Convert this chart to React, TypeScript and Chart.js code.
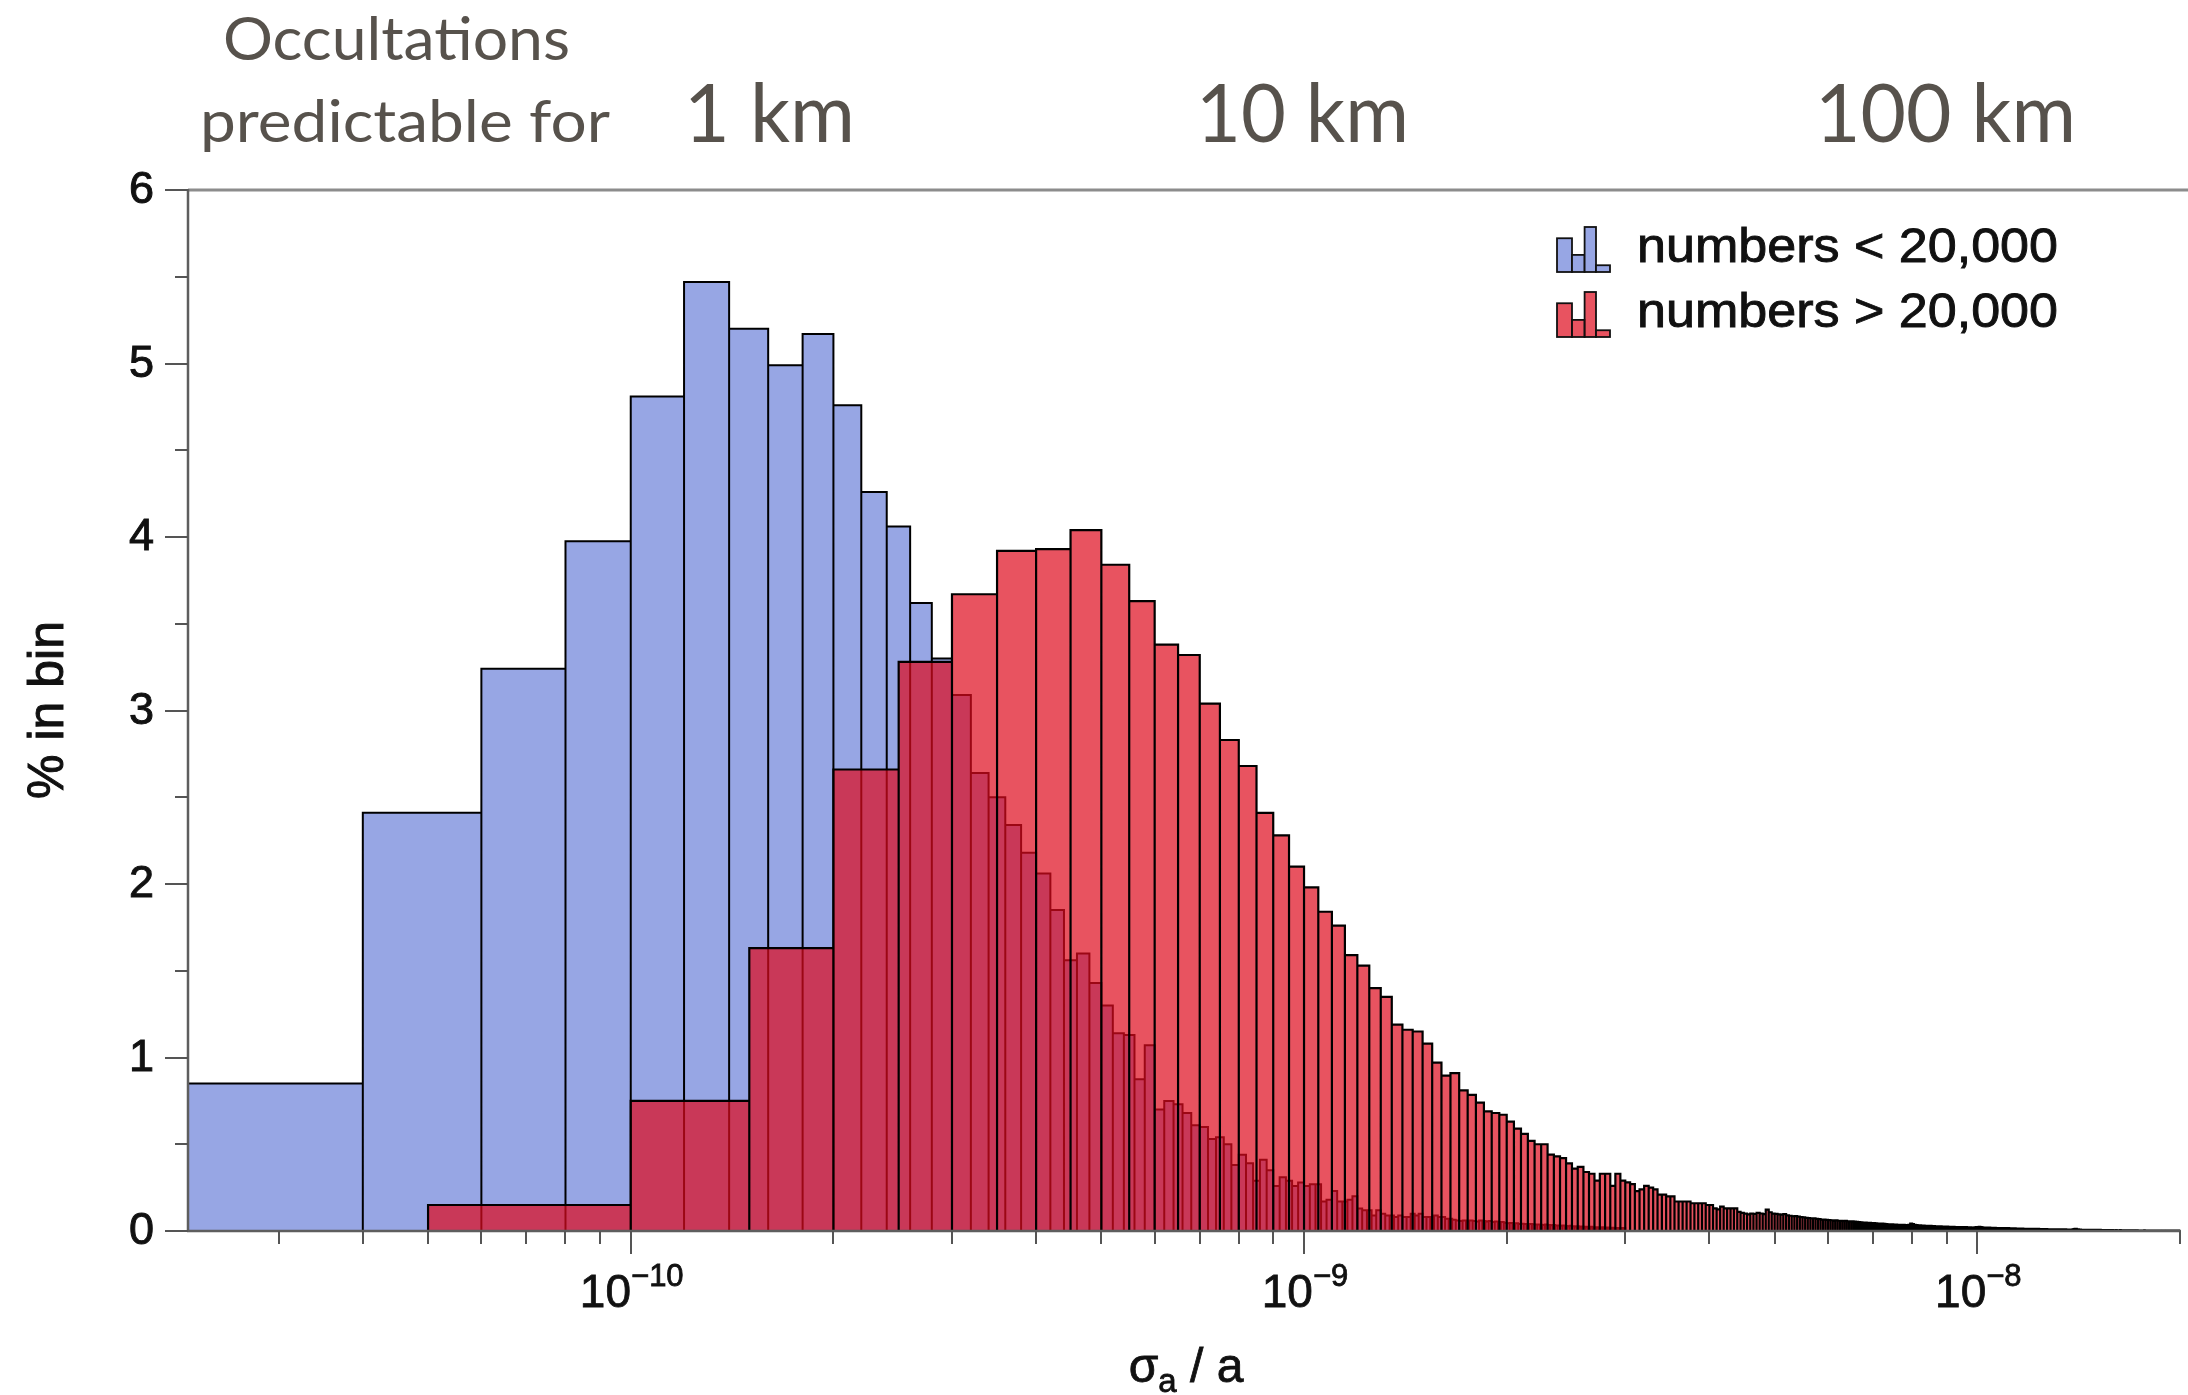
import React, { useEffect, useRef } from 'react';
import { Chart, registerables } from 'chart.js';

Chart.register(...registerables);

const W = 2188;
const H = 1395;

// ---------- Data (histogram bins, % in bin) ----------
// Blue: numbers < 20,000 ; bins of width 2e-11 starting at 2e-11
const BLUE_BIN_START = 2e-11;
const BLUE_BIN_WIDTH = 2e-11;
const blueValues = [
  0.85, 2.41, 3.24, 3.975, 4.81, 5.47, 5.2, 4.99, 5.17, 4.76,
  4.26, 4.06, 3.62, 3.3, 3.09, 2.64, 2.5, 2.34, 2.18, 2.06,
  1.85, 1.56, 1.6, 1.43, 1.3, 1.14, 1.13, 0.874, 1.07, 0.7,
  0.75, 0.73, 0.68, 0.61, 0.6, 0.53, 0.54, 0.5, 0.38, 0.44,
  0.39, 0.29, 0.41, 0.35, 0.26, 0.31, 0.29, 0.26, 0.28,
  0.26, 0.27, 0.27, 0.17, 0.18, 0.23, 0.17, 0.17, 0.18, 0.2,
  0.13, 0.12, 0.12, 0.09, 0.12, 0.1, 0.09, 0.09, 0.08, 0.09,
  0.08, 0.08, 0.1, 0.09, 0.1, 0.08, 0.08, 0.08, 0.09, 0.08,
  0.08, 0.07, 0.07, 0.065, 0.06,
  0.058, 0.06, 0.055, 0.06, 0.058, 0.055, 0.06, 0.057, 0.055, 0.058, 0.052, 0.055, 0.05, 0.052, 0.048,
  0.045, 0.046, 0.042, 0.044, 0.04, 0.042, 0.04, 0.038, 0.041, 0.039,
  0.037, 0.038, 0.036, 0.035, 0.037, 0.034, 0.033, 0.035, 0.032, 0.031,
  0.03, 0.031, 0.029, 0.028, 0.03, 0.027, 0.026, 0.028, 0.025, 0.026,
  0.024, 0.025, 0.023, 0.024, 0.022, 0.022, 0.021, 0.022, 0.02, 0.021,
  0.019, 0.02, 0.018, 0.019, 0.018, 0.017, 0.018, 0.016, 0.017, 0.016,
];

// Red: numbers > 20,000 ; bins of width 5e-11 starting at 5e-11
const RED_BIN_START = 5e-11;
const RED_BIN_WIDTH = 5e-11;
const redValues = [
  0.15, 0.75, 1.63, 2.66, 3.28, 3.67, 3.92, 3.93, 4.04, 3.84,
  3.63, 3.38, 3.32, 3.04, 2.83, 2.68, 2.41, 2.28, 2.1, 1.98,
  1.84, 1.76, 1.59, 1.53, 1.4, 1.35, 1.19, 1.16, 1.15, 1.08,
  0.97, 0.895, 0.91, 0.81, 0.785, 0.74, 0.69, 0.68, 0.67, 0.63,
  0.59, 0.56, 0.52, 0.5, 0.5, 0.44, 0.43, 0.42, 0.39, 0.36,
  0.37, 0.34, 0.33, 0.29, 0.33, 0.33, 0.26, 0.33, 0.29,
  0.28, 0.27, 0.23, 0.24, 0.26, 0.25, 0.24, 0.21, 0.21, 0.2,
  0.2, 0.17, 0.17, 0.17, 0.17, 0.16, 0.16, 0.16, 0.16, 0.15,
  0.15, 0.13, 0.125, 0.14, 0.13, 0.13, 0.13, 0.13, 0.11, 0.105,
  0.1, 0.096,
  0.1, 0.098, 0.104, 0.101, 0.097, 0.123, 0.108, 0.1,
  0.099, 0.096, 0.094, 0.097, 0.09, 0.088, 0.085, 0.086, 0.083, 0.08,
  0.078, 0.076, 0.074, 0.072, 0.073, 0.07, 0.068, 0.066, 0.065, 0.064,
  0.063, 0.062, 0.06, 0.061, 0.059, 0.058, 0.057, 0.058, 0.056, 0.055,
  0.055, 0.054, 0.053, 0.052, 0.05, 0.049, 0.048, 0.047, 0.047, 0.046,
  0.045, 0.044, 0.043, 0.042, 0.042, 0.041, 0.04, 0.039, 0.039, 0.038,
  0.037, 0.037, 0.036, 0.035, 0.036, 0.035, 0.034, 0.033, 0.036, 0.042,
  0.04, 0.036, 0.034, 0.033, 0.032, 0.031, 0.031, 0.03, 0.03, 0.029,
  0.029, 0.028, 0.028, 0.027, 0.027, 0.026, 0.027, 0.026, 0.025, 0.025,
  0.025, 0.024, 0.024, 0.023, 0.024, 0.023, 0.023, 0.022, 0.022, 0.023,
  0.022, 0.021, 0.022, 0.021, 0.02, 0.021, 0.02, 0.02, 0.021, 0.022,
  0.023, 0.024, 0.022, 0.021, 0.02, 0.019, 0.019, 0.018, 0.019, 0.018,
  0.018, 0.017, 0.018, 0.017, 0.017, 0.016, 0.017, 0.016, 0.016, 0.016,
  0.016, 0.015, 0.016, 0.015, 0.015, 0.015, 0.014, 0.015, 0.014, 0.014,
  0.014, 0.014, 0.013, 0.014, 0.013, 0.013, 0.013, 0.013, 0.012, 0.013,
  0.013, 0.012, 0.012, 0.012, 0.012, 0.011, 0.012, 0.011, 0.011, 0.011,
  0.011, 0.011, 0.01, 0.011, 0.01, 0.01, 0.01, 0.01, 0.01, 0.01,
  0.01, 0.009, 0.01, 0.009, 0.009, 0.009, 0.009, 0.009, 0.009, 0.008,
  0.009, 0.008, 0.008, 0.008, 0.008, 0.008, 0.008, 0.009, 0.011, 0.012,
  0.012, 0.01, 0.009, 0.008, 0.008, 0.007, 0.007, 0.007, 0.007, 0.007,
  0.007, 0.007, 0.006, 0.007, 0.006, 0.006, 0.006, 0.006, 0.006, 0.006,
  0.006, 0.006, 0.006, 0.005, 0.006, 0.005, 0.005, 0.005, 0.005, 0.005,
  0.005, 0.005, 0.005, 0.005, 0.005, 0.005, 0.004, 0.005, 0.004, 0.004,
  0.004, 0.005, 0.004, 0.004, 0.004, 0.004, 0.005, 0.004, 0.004, 0.004,
  0.004, 0.004, 0.003, 0.004, 0.004, 0.004, 0.003, 0.004, 0.004, 0.003,
  0.004, 0.003, 0.004, 0.003, 0.003, 0.004, 0.003, 0.003, 0.003, 0.004,
  0.003, 0.003, 0.003, 0.003, 0.004, 0.003, 0.003, 0.003, 0.003, 0.003,
  0.003, 0.003, 0.003, 0.002, 0.003, 0.003, 0.003, 0.003, 0.002, 0.003,
  0.003, 0.002, 0.003, 0.003, 0.002, 0.003, 0.002, 0.003, 0.002, 0.002,
  0.003, 0.002, 0.002, 0.003, 0.002, 0.002, 0.002, 0.003, 0.002, 0.002,
  0.002, 0.002, 0.002, 0.003, 0.002, 0.002, 0.002, 0.002, 0.002, 0.002,
];

const SERIES_LABELS = ['numbers < 20,000', 'numbers > 20,000'];

// ---------- Axes ----------
const X_MIN = 2.2e-11;
const X_MAX = 2.0e-8;
const Y_MIN = 0;
const Y_MAX = 6;
const Y_MAJOR_TICKS = [0, 1, 2, 3, 4, 5, 6];
const Y_MINOR_TICKS = [0.5, 1.5, 2.5, 3.5, 4.5, 5.5];
const X_MAJOR_TICKS = [1e-10, 1e-9, 1e-8];
const X_MAJOR_EXPONENTS = ['\u221210', '\u22129', '\u22128'];
const X_MINOR_TICKS = [
  3e-11, 4e-11, 5e-11, 6e-11, 7e-11, 8e-11, 9e-11,
  2e-10, 3e-10, 4e-10, 5e-10, 6e-10, 7e-10, 8e-10, 9e-10,
  2e-9, 3e-9, 4e-9, 5e-9, 6e-9, 7e-9, 8e-9, 9e-9,
  2e-8,
];
const Y_TITLE = '% in bin';
const X_TITLE_MAIN = '\u03c3';
const X_TITLE_SUB = 'a';
const X_TITLE_REST = ' / a';

// top annotation texts
const HEADER_LINE1 = 'Occultations';
const HEADER_LINE2 = 'predictable for';
const SIZE_LABELS = ['1 km', '10 km', '100 km'];

// ---------- Styles ----------
const BLUE_FILL = '#97a6e4';
const RED_FILL = 'rgba(222, 10, 28, 0.70)';
const EDGE = '#000';
const AXIS_FONT = "'Liberation Sans', Arial, Helvetica, sans-serif";
const HEADER_FONT = "Lato, 'Open Sans', sans-serif";
const HEADER_COLOR = '#57524c';
const TEXT_COLOR = '#111';

function histogramPoints(start: number, width: number, values: number[]) {
  const pts: { x: number; y: number }[] = [];
  values.forEach((v, i) => {
    const l = start + i * width;
    const r = start + (i + 1) * width;
    pts.push({ x: l, y: 0 }, { x: l, y: v }, { x: r, y: v }, { x: r, y: 0 });
  });
  return pts;
}

function heavyText(ctx: CanvasRenderingContext2D, text: string, x: number, y: number) {
  ctx.fillText(text, x, y);
  ctx.strokeText(text, x, y);
}

function fitText(
  ctx: CanvasRenderingContext2D,
  text: string,
  x: number,
  y: number,
  width: number,
  font: string,
  color: string,
  stroke = 0
) {
  ctx.save();
  ctx.font = font;
  ctx.fillStyle = color;
  ctx.strokeStyle = color;
  ctx.textAlign = 'left';
  ctx.textBaseline = 'alphabetic';
  const m = ctx.measureText(text).width;
  const s = width / m;
  ctx.translate(x, y);
  ctx.scale(s, 1);
  ctx.fillText(text, 0, 0);
  if (stroke > 0) {
    ctx.lineWidth = stroke;
    ctx.strokeText(text, 0, 0);
  }
  ctx.restore();
}

const decorPlugin = {
  id: 'decor',
  afterDraw(chart: any) {
    const ctx: CanvasRenderingContext2D = chart.ctx;
    const xs = chart.scales.x;
    const ys = chart.scales.y;
    const ca = chart.chartArea;
    ctx.save();

    // frame
    ctx.strokeStyle = '#8c8c8c';
    ctx.lineWidth = 3;
    ctx.beginPath();
    ctx.moveTo(ca.left, ca.top);
    ctx.lineTo(W, ca.top);
    ctx.stroke();

    ctx.strokeStyle = '#5e5e5e';
    ctx.lineWidth = 2.5;
    ctx.beginPath();
    ctx.moveTo(ca.left, ca.top - 1);
    ctx.lineTo(ca.left, ca.bottom + 1);
    ctx.moveTo(ca.left - 1, ca.bottom);
    ctx.lineTo(ca.right + 1, ca.bottom);
    ctx.stroke();

    // y ticks
    ctx.strokeStyle = '#555';
    ctx.lineWidth = 2;
    ctx.beginPath();
    Y_MAJOR_TICKS.forEach((v) => {
      const y = Math.round(ys.getPixelForValue(v));
      ctx.moveTo(ca.left - 23, y);
      ctx.lineTo(ca.left, y);
    });
    Y_MINOR_TICKS.forEach((v) => {
      const y = Math.round(ys.getPixelForValue(v));
      ctx.moveTo(ca.left - 13, y);
      ctx.lineTo(ca.left, y);
    });
    // x ticks
    X_MAJOR_TICKS.forEach((v) => {
      const x = Math.round(xs.getPixelForValue(v));
      ctx.moveTo(x, ca.bottom);
      ctx.lineTo(x, ca.bottom + 23);
    });
    X_MINOR_TICKS.forEach((v) => {
      const x = Math.round(xs.getPixelForValue(v));
      ctx.moveTo(x, ca.bottom);
      ctx.lineTo(x, ca.bottom + 13);
    });
    ctx.stroke();

    // y tick labels
    ctx.fillStyle = TEXT_COLOR;
    ctx.strokeStyle = TEXT_COLOR;
    ctx.lineWidth = 1;
    ctx.font = `45px ${AXIS_FONT}`;
    ctx.textAlign = 'right';
    ctx.textBaseline = 'middle';
    Y_MAJOR_TICKS.forEach((v) => {
      heavyText(ctx, String(v), ca.left - 34, ys.getPixelForValue(v) + 1);
    });

    // x tick labels 10^n
    X_MAJOR_TICKS.forEach((v, i) => {
      const x = xs.getPixelForValue(v);
      ctx.font = `46px ${AXIS_FONT}`;
      const w1 = ctx.measureText('10').width;
      ctx.font = `31px ${AXIS_FONT}`;
      const w2 = ctx.measureText(X_MAJOR_EXPONENTS[i]).width;
      const start = x - (w1 + w2) / 2 + 1;
      ctx.textAlign = 'left';
      ctx.textBaseline = 'alphabetic';
      ctx.lineWidth = 0.8;
      ctx.font = `46px ${AXIS_FONT}`;
      heavyText(ctx, '10', start, 1307);
      ctx.font = `31px ${AXIS_FONT}`;
      heavyText(ctx, X_MAJOR_EXPONENTS[i], start + w1, 1286);
    });

    // x title
    {
      ctx.textAlign = 'left';
      ctx.textBaseline = 'alphabetic';
      ctx.lineWidth = 0.8;
      ctx.font = `48px ${AXIS_FONT}`;
      const wa = ctx.measureText(X_TITLE_MAIN).width;
      const wc = ctx.measureText(X_TITLE_REST).width;
      ctx.font = `33px ${AXIS_FONT}`;
      const wb = ctx.measureText(X_TITLE_SUB).width;
      const total = wa + wb + wc;
      const cx = 1186;
      const x0 = cx - total / 2;
      ctx.font = `48px ${AXIS_FONT}`;
      heavyText(ctx, X_TITLE_MAIN, x0, 1382);
      ctx.font = `33px ${AXIS_FONT}`;
      heavyText(ctx, X_TITLE_SUB, x0 + wa, 1392);
      ctx.font = `48px ${AXIS_FONT}`;
      heavyText(ctx, X_TITLE_REST, x0 + wa + wb, 1382);
    }

    // y title
    ctx.save();
    ctx.translate(63, 710);
    ctx.rotate(-Math.PI / 2);
    ctx.font = `50px ${AXIS_FONT}`;
    ctx.textAlign = 'center';
    ctx.textBaseline = 'alphabetic';
    ctx.lineWidth = 1;
    heavyText(ctx, Y_TITLE, 0, 0);
    ctx.restore();

    // legend
    const iconBars = [
      [0, 15, 0.75],
      [15, 27.6, 0.38],
      [27.6, 39, 1.0],
      [39, 53, 0.15],
    ];
    const legendRows = [
      { fill: BLUE_FILL, bottom: 272, baseline: 262, label: SERIES_LABELS[0] },
      { fill: RED_FILL, bottom: 337, baseline: 327, label: SERIES_LABELS[1] },
    ];
    legendRows.forEach((row) => {
      const ix = 1557;
      const ih = 45;
      iconBars.forEach(([a, b, f]) => {
        ctx.fillStyle = row.fill;
        ctx.fillRect(ix + a, row.bottom - ih * f, b - a, ih * f);
        ctx.strokeStyle = '#111';
        ctx.lineWidth = 1.8;
        ctx.strokeRect(ix + a, row.bottom - ih * f, b - a, ih * f);
      });
      fitText(ctx, row.label, 1637, row.baseline, 421, `49px ${AXIS_FONT}`, TEXT_COLOR, 0.9);
    });

    // header annotations
    fitText(ctx, HEADER_LINE1, 223, 60, 347, `60px ${HEADER_FONT}`, HEADER_COLOR);
    fitText(ctx, HEADER_LINE2, 200, 142, 410, `58px ${HEADER_FONT}`, HEADER_COLOR);
    fitText(ctx, SIZE_LABELS[0], 684, 142, 171, `82px ${HEADER_FONT}`, HEADER_COLOR);
    fitText(ctx, SIZE_LABELS[1], 1196, 142, 213, `82px ${HEADER_FONT}`, HEADER_COLOR);
    fitText(ctx, SIZE_LABELS[2], 1815, 142, 261, `82px ${HEADER_FONT}`, HEADER_COLOR);

    ctx.restore();
  },
};

export default function App() {
  const canvasRef = useRef<HTMLCanvasElement | null>(null);

  useEffect(() => {
    const canvas = canvasRef.current;
    if (!canvas) return;
    const bluePts = histogramPoints(BLUE_BIN_START, BLUE_BIN_WIDTH, blueValues);
    const redPts = histogramPoints(RED_BIN_START, RED_BIN_WIDTH, redValues);

    const chart = new Chart(canvas, {
      type: 'line',
      data: {
        datasets: [
          {
            label: SERIES_LABELS[1],
            data: redPts,
            borderColor: EDGE,
            borderWidth: 2.2,
            backgroundColor: RED_FILL,
            fill: 'origin',
            pointRadius: 0,
            tension: 0,
            borderJoinStyle: 'miter',
            order: 1,
          },
          {
            label: SERIES_LABELS[0],
            data: bluePts,
            borderColor: EDGE,
            borderWidth: 2,
            backgroundColor: BLUE_FILL,
            fill: 'origin',
            pointRadius: 0,
            tension: 0,
            borderJoinStyle: 'miter',
            order: 2,
          },
        ],
      } as any,
      options: {
        responsive: false,
        animation: false,
        devicePixelRatio: 1,
        events: [],
        layout: { padding: { left: 188, right: 8, top: 190, bottom: 164 } },
        scales: {
          x: { type: 'logarithmic', min: X_MIN, max: X_MAX, display: false },
          y: { type: 'linear', min: Y_MIN, max: Y_MAX, display: false },
        },
        plugins: {
          legend: { display: false },
          tooltip: { enabled: false },
          title: { display: false },
        },
      } as any,
      plugins: [decorPlugin],
    });
    return () => chart.destroy();
  }, []);

  return (
    <div style={{ position: 'absolute', left: 0, top: 0, width: W, height: H, background: '#fff' }}>
      <canvas ref={canvasRef} width={W} height={H} style={{ display: 'block', width: W, height: H }} />
    </div>
  );
}
